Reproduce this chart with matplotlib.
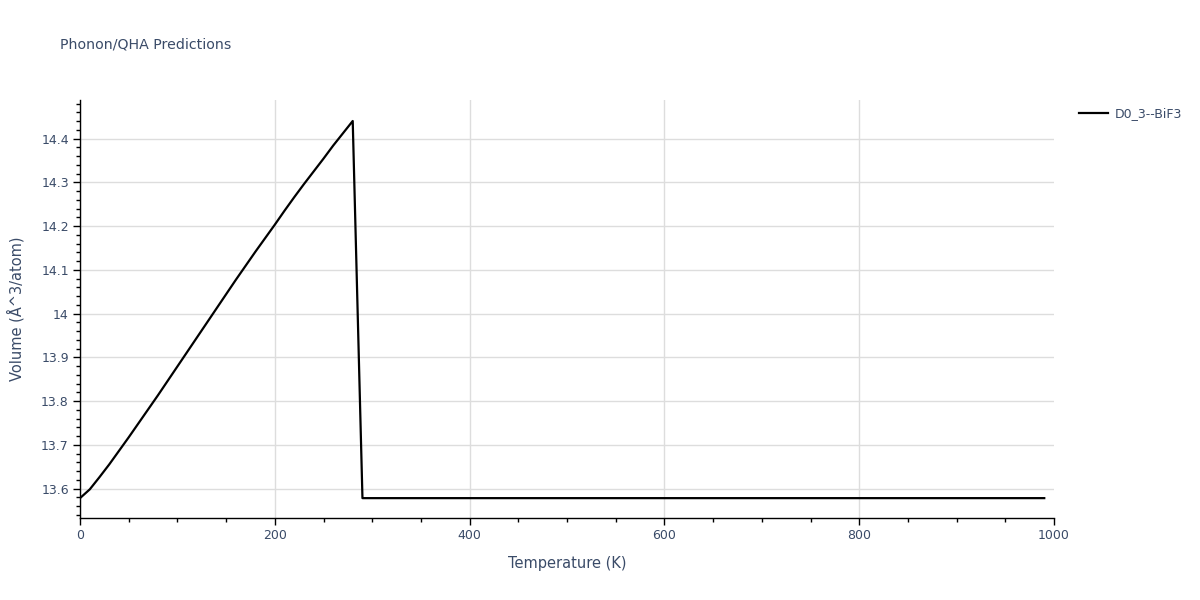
import matplotlib
matplotlib.use("Agg")
import matplotlib.pyplot as plt
from matplotlib.ticker import MultipleLocator, FuncFormatter

# data
temperature = [0, 10, 20, 30, 40, 50, 60, 70, 80, 90, 100, 110, 120, 130, 140,
               150, 160, 170, 180, 190, 200, 210, 220, 230, 240, 250, 260, 270,
               280, 290, 400, 500, 600, 700, 800, 900, 990]
volume = [13.578, 13.598, 13.626, 13.655, 13.686, 13.717, 13.749, 13.781,
          13.813, 13.846, 13.879, 13.912, 13.945, 13.978, 14.011, 14.044,
          14.077, 14.109, 14.141, 14.172, 14.203, 14.235, 14.266, 14.296,
          14.325, 14.354, 14.384, 14.412, 14.440, 13.578, 13.578, 13.578,
          13.578, 13.578, 13.578, 13.578, 13.578]
series_name = "D0_3--BiF3"

text_col = "#3a4b68"
grid_col = "#dddddd"

fig = plt.figure(figsize=(12, 6), dpi=100)
ax = fig.add_axes([80 / 1200, 1 - 518 / 600, (1054 - 80) / 1200, (518 - 100) / 600])

ax.plot(temperature, volume, color="black", lw=1.6, label=series_name, zorder=3)

ax.set_xlim(0, 1000)
ax.set_ylim(13.5326, 14.488)

ax.xaxis.set_major_locator(MultipleLocator(200))
ax.xaxis.set_minor_locator(MultipleLocator(50))
ax.yaxis.set_major_locator(MultipleLocator(0.1))
ax.yaxis.set_minor_locator(MultipleLocator(0.02))
ax.yaxis.set_major_formatter(FuncFormatter(lambda v, p: "%g" % round(v, 2)))

ax.grid(True, which="major", color=grid_col, lw=1)
ax.set_axisbelow(True)
fig.canvas.draw()
for gl, t in zip(ax.xaxis.get_gridlines(), ax.get_xticks()):
    if t >= 1000:
        gl.set_visible(False)
for s in ["top", "right"]:
    ax.spines[s].set_visible(False)
for s in ["left", "bottom"]:
    ax.spines[s].set_color("black")
    ax.spines[s].set_linewidth(1)

ax.tick_params(which="major", length=5, width=1, color="black",
               labelcolor=text_col, labelsize=9, pad=3)
ax.tick_params(which="minor", length=3, width=1, color="black")

ax.set_xlabel("Temperature (K)", color=text_col, fontsize=10.5, labelpad=10)
ax.set_ylabel("Volume (Å^3/atom)", color=text_col, fontsize=10.5, labelpad=12)

fig.text(60 / 1200, 1 - 45 / 600, "Phonon/QHA Predictions", color=text_col,
         fontsize=10.2, va="center", ha="left")

fig.legend(loc="center left", bbox_to_anchor=(1068 / 1200, 1 - 114 / 600),
           frameon=False, fontsize=9, handlelength=2.3, handletextpad=0.5,
           labelcolor=text_col)

fig.savefig("out.png", dpi=100)
